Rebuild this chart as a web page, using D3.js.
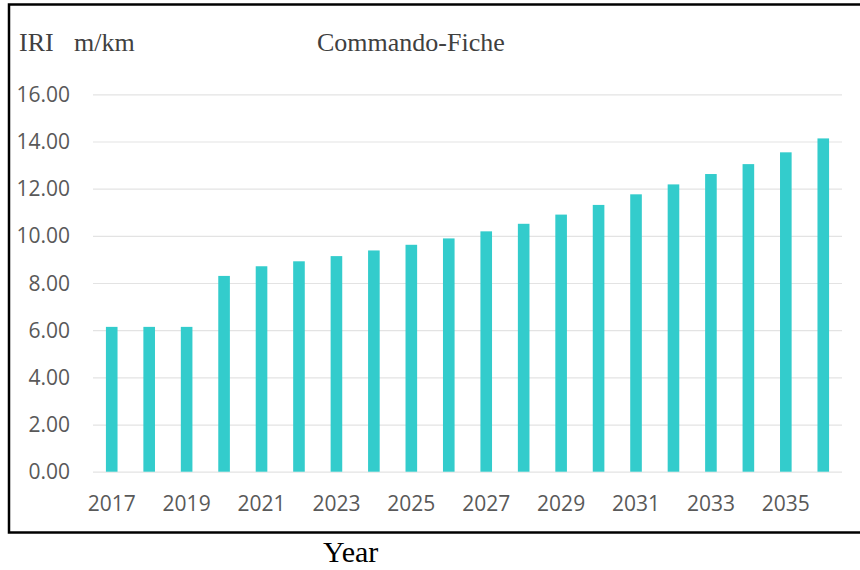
<!DOCTYPE html>
<html>
<head>
<meta charset="utf-8">
<script src="https://cdn.jsdelivr.net/npm/d3@7/dist/d3.min.js"></script>
<style>
  html, body { margin: 0; padding: 0; background: #fff; }
  svg { display: block; }
  .tick text { font-family: "Open Sans", sans-serif; font-size: 21px; fill: #595959; }
</style>
</head>
<body>
<script>
// Yearly IRI projection (m/km)
const years = ["2017","2018","2019","2020","2021","2022","2023","2024","2025","2026",
               "2027","2028","2029","2030","2031","2032","2033","2034","2035","2036"];
const iriValues = [6.14, 6.14, 6.14, 8.30, 8.71, 8.92, 9.14, 9.38, 9.62, 9.89,
                   10.19, 10.51, 10.90, 11.31, 11.76, 12.18, 12.62, 13.04, 13.54, 14.13];
const yTicks = [0, 2, 4, 6, 8, 10, 12, 14, 16];
const xTickLabels = ["2017","2019","2021","2023","2025","2027","2029","2031","2033","2035"];

const W = 860, H = 570;
const plot = { left: 93, right: 842, top: 94.3, bottom: 471.7 };

const svg = d3.select("body").append("svg")
  .attr("width", W).attr("height", H);

// frame around the chart area
svg.append("rect")
  .attr("x", 9).attr("y", 4.5)
  .attr("width", 862).attr("height", 528)
  .attr("fill", "none").attr("stroke", "#000").attr("stroke-width", 2.5);

const x = d3.scaleBand()
  .domain(years)
  .range([plot.left, plot.right])
  .paddingInner(0.69)
  .paddingOuter(0.345);

const y = d3.scaleLinear()
  .domain([0, 16])
  .range([plot.bottom, plot.top]);

// horizontal gridlines + value labels
const yAxis = svg.append("g")
  .attr("transform", `translate(${plot.left},0)`)
  .call(d3.axisLeft(y)
    .tickValues(yTicks)
    .tickFormat(d3.format(".2f"))
    .tickSize(-(plot.right - plot.left))
    .tickPadding(23));
yAxis.select(".domain").remove();
yAxis.selectAll(".tick line").attr("stroke", "#e3e3e3").attr("stroke-width", 1.2);
yAxis.selectAll(".tick text").attr("dy", "0.34em");

// category axis labels (every other year)
const xAxis = svg.append("g")
  .attr("transform", `translate(0,${plot.bottom})`)
  .call(d3.axisBottom(x)
    .tickValues(xTickLabels)
    .tickSize(0)
    .tickPadding(24));
xAxis.select(".domain").remove();

// bars
svg.append("g").selectAll("rect")
  .data(years.map((yr, i) => ({ yr, v: iriValues[i] })))
  .join("rect")
  .attr("x", d => x(d.yr))
  .attr("width", x.bandwidth())
  .attr("y", d => y(d.v))
  .attr("height", d => y(0) - y(d.v))
  .attr("fill", "#33CCCC");

// headings
const serif = "'Liberation Serif', 'Times New Roman', serif";
svg.append("text").attr("x", 19).attr("y", 50.5)
  .attr("font-family", serif).attr("font-size", 26).attr("fill", "#404040")
  .text("IRI");
svg.append("text").attr("x", 74).attr("y", 50.5)
  .attr("font-family", serif).attr("font-size", 26).attr("fill", "#404040")
  .text("m/km");
svg.append("text").attr("x", 317).attr("y", 50.5)
  .attr("font-family", serif).attr("font-size", 26).attr("fill", "#404040")
  .text("Commando-Fiche");
svg.append("text").attr("x", 323).attr("y", 561.5)
  .attr("font-family", serif).attr("font-size", 30).attr("fill", "#000")
  .text("Year");
</script>
</body>
</html>
